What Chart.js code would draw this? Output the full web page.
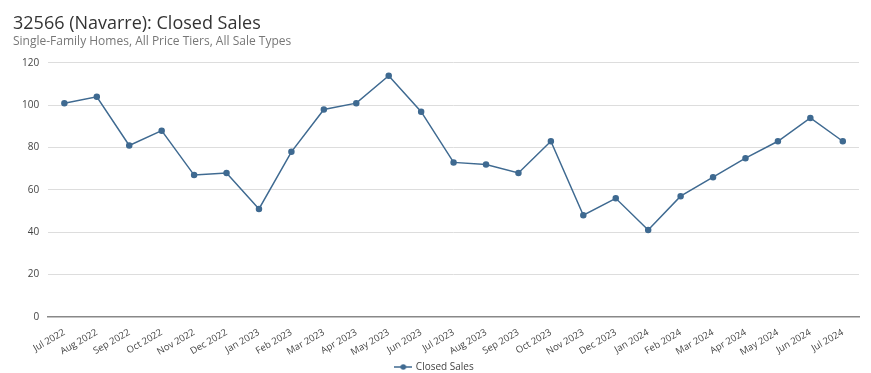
<!DOCTYPE html>
<html>
<head>
<meta charset="utf-8">
<script src="https://cdn.jsdelivr.net/npm/chart.js@4/dist/chart.umd.min.js"></script>
<style>
  html, body { margin: 0; padding: 0; background: #fff; }
  #wrap { width: 871px; height: 373px; position: relative; }
</style>
</head>
<body>
<div id="wrap"><canvas id="sales-chart"></canvas></div>
<script>
const months = [
  'Jul 2022', 'Aug 2022', 'Sep 2022', 'Oct 2022', 'Nov 2022', 'Dec 2022',
  'Jan 2023', 'Feb 2023', 'Mar 2023', 'Apr 2023', 'May 2023', 'Jun 2023',
  'Jul 2023', 'Aug 2023', 'Sep 2023', 'Oct 2023', 'Nov 2023', 'Dec 2023',
  'Jan 2024', 'Feb 2024', 'Mar 2024', 'Apr 2024', 'May 2024', 'Jun 2024',
  'Jul 2024'
];
const closedSales = [
  101, 104, 81, 88, 67, 68,
  51, 78, 98, 101, 114, 97,
  73, 72, 68, 83, 48, 56,
  41, 57, 66, 75, 83, 94,
  83
];
const yTicks = [0, 20, 40, 60, 80, 100, 120];

const FONT = "'Open Sans', 'Noto Sans', sans-serif";
const lineColor = '#3f6a91';

// legend marker: short line with a dot in the middle
function legendMarker() {
  const c = document.createElement('canvas');
  c.width = 18; c.height = 8;
  const g = c.getContext('2d');
  g.strokeStyle = lineColor;
  g.lineWidth = 1.5;
  g.beginPath(); g.moveTo(0, 4); g.lineTo(18, 4); g.stroke();
  g.fillStyle = lineColor;
  g.beginPath(); g.arc(9, 4, 2.8, 0, Math.PI * 2); g.fill();
  return c;
}

new Chart(document.getElementById('sales-chart').getContext('2d'), {
  type: 'line',
  data: {
    labels: months,
    datasets: [{
      label: 'Closed Sales',
      data: closedSales,
      borderColor: lineColor,
      backgroundColor: lineColor,
      borderWidth: 1.5,
      pointRadius: 2.5,
      pointBackgroundColor: lineColor,
      pointBorderColor: lineColor,
      pointStyle: 'circle',
      tension: 0
    }]
  },
  options: {
    responsive: true,
    maintainAspectRatio: false,
    animation: false,
    layout: { padding: { left: 13, right: 12, top: 3, bottom: -9 } },
    plugins: {
      title: {
        display: true,
        text: '32566 (Navarre): Closed Sales',
        align: 'start',
        color: '#333',
        font: { family: FONT, size: 18, weight: 'normal' },
        padding: { top: 10, bottom: 0 }
      },
      subtitle: {
        display: true,
        text: 'Single-Family Homes, All Price Tiers, All Sale Types',
        align: 'start',
        color: '#777',
        font: { family: FONT, size: 12 },
        padding: { top: 0, bottom: 14 }
      },
      legend: {
        position: 'bottom',
        labels: {
          color: '#444',
          font: { family: FONT, size: 10 },
          usePointStyle: true,
          generateLabels: chart => [{
            text: ' Closed Sales',
            pointStyle: legendMarker(),
            fontColor: '#444',
            datasetIndex: 0,
            hidden: false
          }],
          padding: 2
        }
      },
      tooltip: { enabled: false }
    },
    scales: {
      x: {
        offset: true,
        grid: { display: false },
        border: { color: '#888', width: 1.5 },
        ticks: {
          color: '#444',
          font: { family: FONT, size: 9.5 },
          maxRotation: 30,
          minRotation: 30,
          autoSkip: false,
          padding: 2
        }
      },
      y: {
        min: 0,
        max: 120,
        afterBuildTicks: axis => { axis.ticks = yTicks.map(v => ({ value: v })); },
        grid: { color: '#ddd', drawTicks: false },
        border: { display: false },
        ticks: {
          color: '#444',
          font: { family: FONT, size: 10 },
          padding: 9
        }
      }
    }
  }
});
</script>
</body>
</html>
